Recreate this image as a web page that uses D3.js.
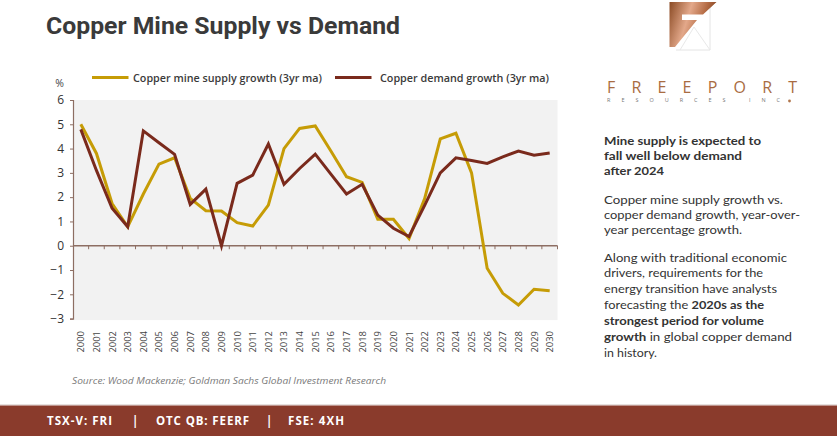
<!DOCTYPE html>
<html><head><meta charset="utf-8">
<script src="https://cdn.jsdelivr.net/npm/d3@7/dist/d3.min.js"></script>
<style>
html,body{margin:0;padding:0;background:#fff;}
svg{display:block;}
</style></head>
<body>
<svg id="chart" width="837" height="436"></svg>
<script>
// ---- data ----
const years = ["2000","2001","2002","2003","2004","2005","2006","2007","2008","2009","2010","2011","2012","2013","2014","2015","2016","2017","2018","2019","2020","2021","2022","2023","2024","2025","2026","2027","2028","2029","2030"];
const supplyGrowth = [5.0, 3.8, 1.74, 0.78, 2.13, 3.36, 3.62, 1.95, 1.44, 1.43, 0.95, 0.81, 1.67, 4.0, 4.83, 4.93, 3.9, 2.84, 2.61, 1.09, 1.09, 0.3, 1.94, 4.4, 4.63, 3.0, -0.93, -1.96, -2.44, -1.79, -1.85];
const demandGrowth = [4.79, 3.1, 1.54, 0.78, 4.73, 4.24, 3.76, 1.7, 2.33, 0.0, 2.57, 2.91, 4.19, 2.53, 3.18, 3.77, 2.95, 2.13, 2.53, 1.26, 0.72, 0.38, 1.66, 3.0, 3.62, 3.51, 3.39, 3.66, 3.9, 3.73, 3.82];
const yTicks = [-3, -2, -1, 0, 1, 2, 3, 4, 5, 6];
const seriesNames = ["Copper mine supply growth (3yr ma)", "Copper demand growth (3yr ma)"];
const seriesColors = ["#C69C06", "#7A2A1C"];
const titleText = "Copper Mine Supply vs Demand";
const sourceText = "Source:  Wood Mackenzie; Goldman Sachs Global Investment Research";
const footerParts = ["TSX-V: FRI", "|", "OTC QB: FEERF", "|", "FSE: 4XH"];

const svg = d3.select("#chart");
const FONT = "'Open Sans', 'Noto Sans', sans-serif";
const PFONT = "Lato, 'Open Sans', sans-serif";

function fit(sel, w){ sel.attr("textLength", w).attr("lengthAdjust", "spacingAndGlyphs"); return sel; }

// ---- title ----
fit(svg.append("text").attr("x", 46).attr("y", 33.5)
  .attr("font-family", "Roboto, sans-serif").attr("font-weight", 700).attr("font-size", 23.5)
  .attr("fill", "#3a3a3a").text(titleText), 354);

// ---- logo ----
const defs = svg.append("defs");
const grad = defs.append("linearGradient").attr("id", "cu").attr("x1", "0").attr("y1", "0").attr("x2", "1").attr("y2", "0.3");
grad.append("stop").attr("offset", "0").attr("stop-color", "#8a4a24");
grad.append("stop").attr("offset", "0.45").attr("stop-color", "#e3a88a");
grad.append("stop").attr("offset", "0.75").attr("stop-color", "#b56c45");
grad.append("stop").attr("offset", "1").attr("stop-color", "#7e3f1c");
const logo = svg.append("g");
logo.append("path").attr("d", "M710,2 L710,50 L676,50").attr("fill", "none").attr("stroke", "#e4e4e4").attr("stroke-width", 1);
logo.append("path").attr("d", "M680,50 L694,27 L710,50").attr("fill", "none").attr("stroke", "#e8e8e8").attr("stroke-width", 1);
logo.append("path").attr("d", "M716,2 L710,8").attr("fill", "none").attr("stroke", "#e8e8e8");
logo.append("path").attr("d", "M669.5,2 L716.5,2 L703,14.5 L682,14.5 L682,20 L697,20 L675,47 L669.5,47 Z").attr("fill", "url(#cu)");

svg.append("text").attr("x", 607).attr("y", 92.5)
  .attr("font-family", FONT).attr("font-weight", 500).attr("font-size", 16)
  .attr("fill", "#a96c42").attr("textLength", 190).attr("lengthAdjust", "spacing").text("FREEPORT");
svg.append("text").attr("x", 607).attr("y", 102)
  .attr("font-family", FONT).attr("font-size", 5.5).attr("fill", "#777")
  .attr("textLength", 173).attr("lengthAdjust", "spacing").text("RESOURCES INC");
svg.append("circle").attr("cx", 789.5).attr("cy", 101).attr("r", 1.4).attr("fill", "#b0764c");

// ---- chart ----
const x = d3.scaleBand().domain(years).range([73, 557.5]).padding(0);
const y = d3.scaleLinear().domain([-3, 6]).range([318.6, 100]);
const cx = d => x(d) + x.bandwidth() / 2;

svg.append("rect").attr("x", 73).attr("y", y(6)).attr("width", 557.5 - 73).attr("height", y(-3) - y(6) + 1.5).attr("fill", "#f2f2f2");

// y axis
const yAxis = svg.append("g").attr("transform", "translate(73,0)")
  .call(d3.axisLeft(y).tickValues(yTicks).tickSize(3).tickPadding(6).tickFormat(d3.format("d")));
yAxis.select(".domain").attr("stroke", "#8d6e63").attr("stroke-width", 1.2);
yAxis.selectAll(".tick line").attr("stroke", "#8d6e63");
yAxis.selectAll("text").attr("font-family", FONT).attr("font-size", 12).attr("fill", "#333").attr("x", -9);

svg.append("text").attr("x", 64).attr("y", 87).attr("text-anchor", "end")
  .attr("font-family", FONT).attr("font-size", 10.5).attr("fill", "#444").text("%");

// zero line with band ticks
const zeroAxis = svg.append("g").attr("transform", `translate(0,${y(0)})`);
zeroAxis.append("line").attr("x1", 73).attr("x2", 557.5).attr("stroke", "#8d6e63").attr("stroke-width", 1.4);
zeroAxis.selectAll("line.tk").data(years).join("line").attr("class", "tk")
  .attr("x1", d => x(d) + x.bandwidth()).attr("x2", d => x(d) + x.bandwidth())
  .attr("y1", 0).attr("y2", 3.5).attr("stroke", "#8d6e63").attr("stroke-width", 1);

// x labels at bottom
const xAxis = svg.append("g").attr("transform", "translate(0,318.6)")
  .call(d3.axisBottom(x).tickSize(0).tickPadding(0));
xAxis.select(".domain").remove();
xAxis.selectAll("text")
  .attr("font-family", FONT).attr("font-size", 9.5).attr("fill", "#444")
  .attr("text-anchor", "end").attr("dy", null).attr("y", 0)
  .attr("transform", "translate(3.5,12.5) rotate(-90)")
  .attr("textLength", 21.5).attr("lengthAdjust", "spacingAndGlyphs");

// lines
const line = d3.line().x((d, i) => cx(years[i])).y(d => y(d));
[supplyGrowth, demandGrowth].forEach((s, k) => {
  svg.append("path").datum(s).attr("d", line).attr("fill", "none")
    .attr("stroke", seriesColors[k]).attr("stroke-width", 3).attr("stroke-linejoin", "miter").attr("stroke-miterlimit", 10);
});

// legend
const legendPos = [{lx: 92, tx: 133, tw: 189}, {lx: 335, tx: 380, tw: 169}];
seriesNames.forEach((n, k) => {
  const p = legendPos[k];
  svg.append("line").attr("x1", p.lx).attr("x2", p.lx + 36.5).attr("y1", 77.5).attr("y2", 77.5)
    .attr("stroke", seriesColors[k]).attr("stroke-width", 3);
  fit(svg.append("text").attr("x", p.tx).attr("y", 81.5)
    .attr("font-family", FONT).attr("font-weight", 600).attr("font-size", 11)
    .attr("fill", "#3a3a3a").text(n), p.tw);
});

// source
fit(svg.append("text").attr("x", 72).attr("y", 384)
  .attr("font-family", FONT).attr("font-style", "italic").attr("font-size", 9.5)
  .attr("fill", "#7a7a7a").text(sourceText), 314);

// ---- right panel text ----
const panel = [
  {y: 144.5, parts: [["Mine supply is expected to", 700]], w: 157},
  {y: 160, parts: [["fall well below demand", 700]], w: 138},
  {y: 175.3, parts: [["after 2024", 700]], w: 60},
  {y: 204.2, parts: [["Copper mine supply growth vs.", 400]], w: 179},
  {y: 218.9, parts: [["copper demand growth, year-over-", 400]], w: 196},
  {y: 233.6, parts: [["year percentage growth.", 400]], w: 138},
  {y: 261.5, parts: [["Along with traditional economic", 400]], w: 183},
  {y: 277.4, parts: [["drivers, requirements for the", 400]], w: 159},
  {y: 293.3, parts: [["energy transition have analysts", 400]], w: 173},
  {y: 309.2, parts: [["forecasting the ", 400], ["2020s as the", 700]], w: 160},
  {y: 325.1, parts: [["strongest period for volume", 700]], w: 160},
  {y: 341, parts: [["growth", 700], [" in global copper demand", 400]], w: 188},
  {y: 356.9, parts: [["in history.", 400]], w: 53}
];
panel.forEach(l => {
  const t = svg.append("text").attr("x", 604).attr("y", l.y).attr("font-family", PFONT)
    .attr("font-size", 11.8).attr("fill", "#333").attr("xml:space", "preserve").style("white-space", "pre")
    .attr("textLength", l.w).attr("lengthAdjust", "spacingAndGlyphs");
  l.parts.forEach(p => t.append("tspan").attr("font-weight", p[1]).text(p[0]));
});

// ---- footer ----
svg.append("rect").attr("x", 0).attr("y", 404).attr("width", 837).attr("height", 1.5).attr("fill", "#e6e0de");
svg.append("rect").attr("x", 0).attr("y", 405.5).attr("width", 837).attr("height", 31).attr("fill", "#8A3B2C");
const fpos = [{x: 47, w: 65}, {x: 132, w: 3}, {x: 156, w: 93}, {x: 266, w: 3}, {x: 288, w: 56}];
footerParts.forEach((s, i) => {
  const t = svg.append("text").attr("x", fpos[i].x).attr("y", 425)
    .attr("font-family", FONT).attr("font-weight", 700).attr("font-size", 11.5)
    .attr("fill", "#fff").text(s);
  if (s !== "|") t.attr("textLength", fpos[i].w).attr("lengthAdjust", "spacing");
});
</script>
</body></html>
